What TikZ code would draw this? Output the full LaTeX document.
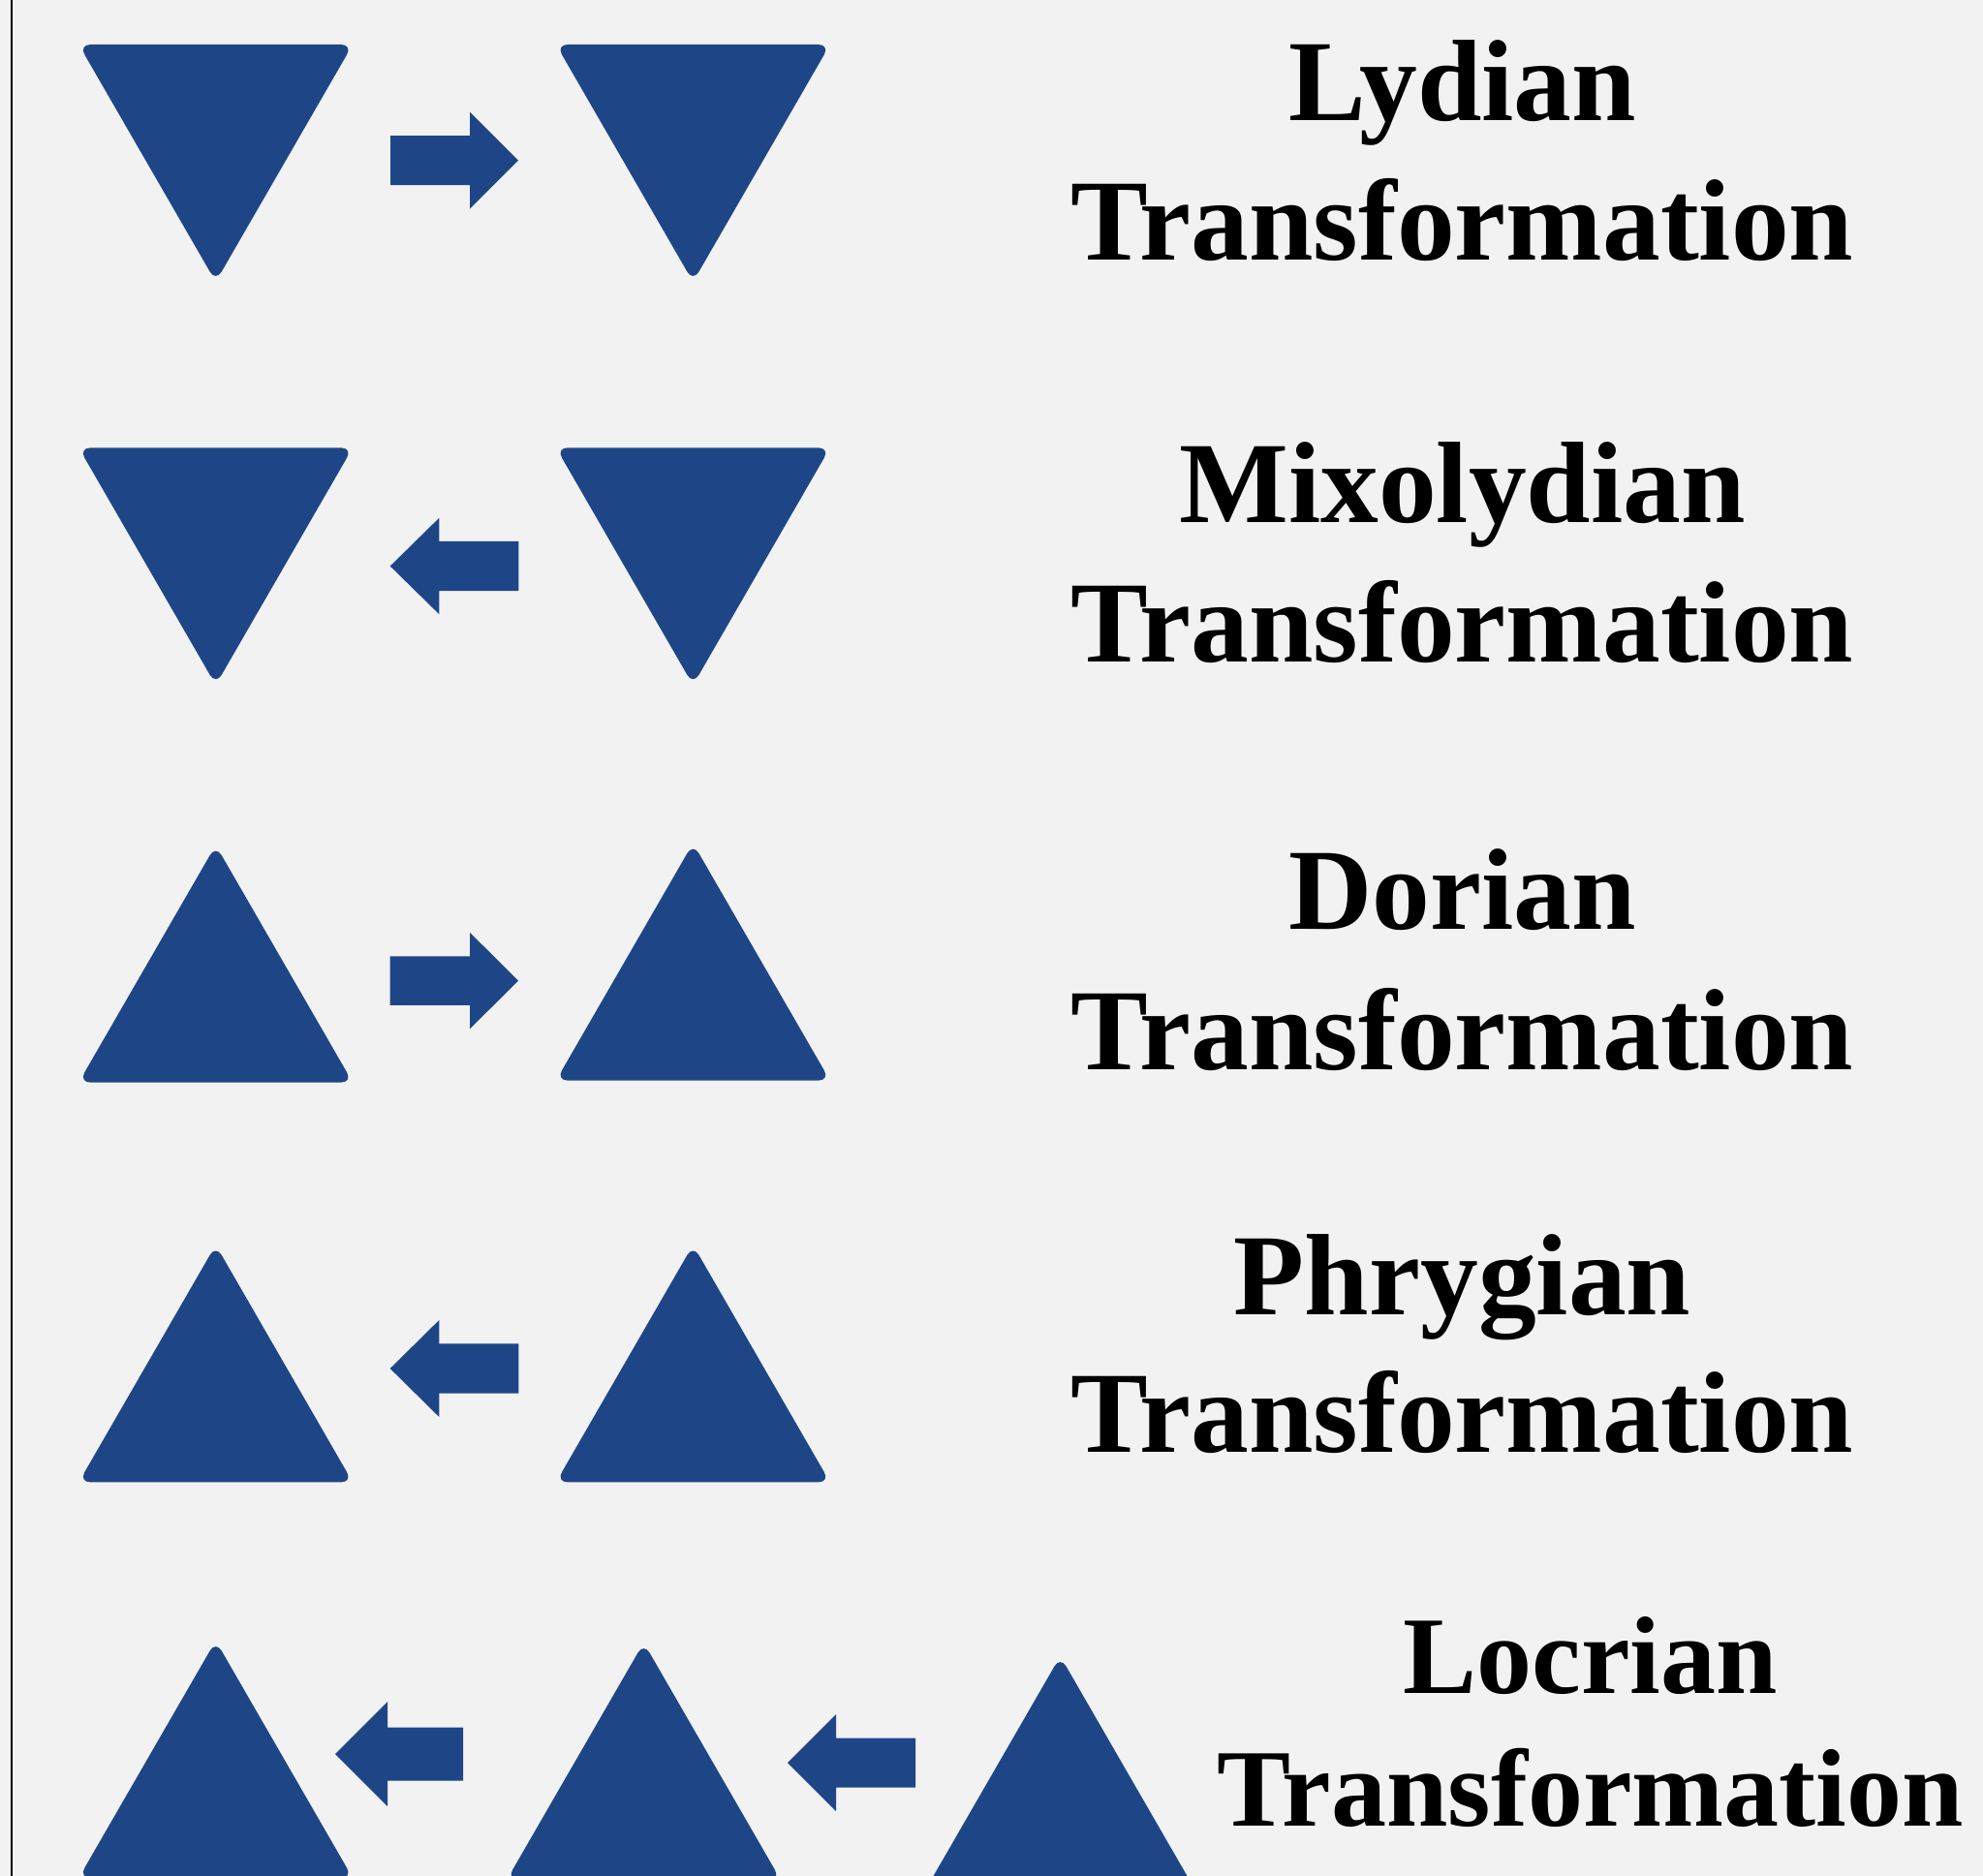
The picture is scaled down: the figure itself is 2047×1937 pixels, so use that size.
\documentclass[tikz,border=0pt]{standalone}
\usepackage{fontspec}
\setmainfont{Liberation Serif}
\definecolor{triblue}{HTML}{1E4687}
\definecolor{paper}{HTML}{F2F2F2}

\tikzset{
  tri/.style={fill=triblue, rounded corners=12pt},
  blockarrow/.style={fill=triblue},
  modename/.style={anchor=base, inner sep=0pt, font=\fontsize{119.5}{140}\selectfont\bfseries},
  modenamesmall/.style={modename, font=\fontsize{114}{134}\selectfont\bfseries},
}

% triangle pointing down: name, centre x, top edge y
\newcommand\TriDown[3]{%
  \fill[tri] (#2-141.4,#3) -- (#2+141.4,#3) -- (#2,#3+245) -- cycle;
  \coordinate (#1) at (#2,#3+122.5);}
% triangle pointing up: name, centre x, base y
\newcommand\TriUp[3]{%
  \fill[tri] (#2-141.4,#3) -- (#2+141.4,#3) -- (#2,#3-245) -- cycle;
  \coordinate (#1) at (#2,#3-122.5);}
% block arrow: tail x, head-back x, tip x, centre y, head half-height, shaft half-height
\newcommand\BlockArrow[6]{%
  \fill[blockarrow] (#1,#4-#6) -- (#2,#4-#6) -- (#2,#4-#5) -- (#3,#4)
    -- (#2,#4+#5) -- (#2,#4+#6) -- (#1,#4+#6) -- cycle;}

\begin{document}
\begin{tikzpicture}[x={(1pt,0pt)}, y={(0pt,-1pt)}]
  \fill[paper] (0,0) rectangle (2047,1937);
  \useasboundingbox (0,0) rectangle (2047,1937);
  \draw[line width=2.3pt] (12,0) -- (12,1937);

  % Lydian
  \TriDown{lydA}{222.7}{46}
  \TriDown{lydB}{715.4}{46}
  \BlockArrow{403}{485}{535}{165.7}{50}{25.5}
  \node[modename] (lydT) at (1509.5,125) {Lydian};
  \node[modename] (lydS) at (1509.5,268) {Transformation};

  % Mixolydian
  \TriDown{mixA}{222.7}{462.3}
  \TriDown{mixB}{715.4}{462.3}
  \BlockArrow{535.3}{453.3}{402.7}{584.5}{49.7}{25.6}
  \node[modename] (mixT) at (1509.5,539) {Mixolydian};
  \node[modename] (mixS) at (1509.5,683) {Transformation};

  % Dorian
  \TriUp{dorA}{222.7}{1117.6}
  \TriUp{dorB}{715.4}{1115.6}
  \BlockArrow{402.7}{485}{535}{1012.6}{49.8}{25.2}
  \node[modename] (dorT) at (1509.5,959.5) {Dorian};
  \node[modename] (dorS) at (1509.5,1104) {Transformation};

  % Phrygian
  \TriUp{phrA}{222.7}{1530.4}
  \TriUp{phrB}{715.4}{1530.4}
  \BlockArrow{535.3}{453.3}{402.7}{1413}{50}{25.6}
  \node[modename] (phrT) at (1509.5,1357.5) {Phrygian};
  \node[modename] (phrS) at (1509.5,1499) {Transformation};

  % Locrian
  \TriUp{locA}{222.7}{1939}
  \TriUp{locB}{664.5}{1941}
  \TriUp{locC}{1094.5}{1955}
  \BlockArrow{478}{400}{346}{1811}{54}{27.5}
  \BlockArrow{945}{863}{813}{1820}{50}{25.5}
  \node[modenamesmall] (locT) at (1641.5,1748) {Locrian};
  \node[modenamesmall] (locS) at (1641.5,1885) {Transformation};
\end{tikzpicture}
\end{document}
